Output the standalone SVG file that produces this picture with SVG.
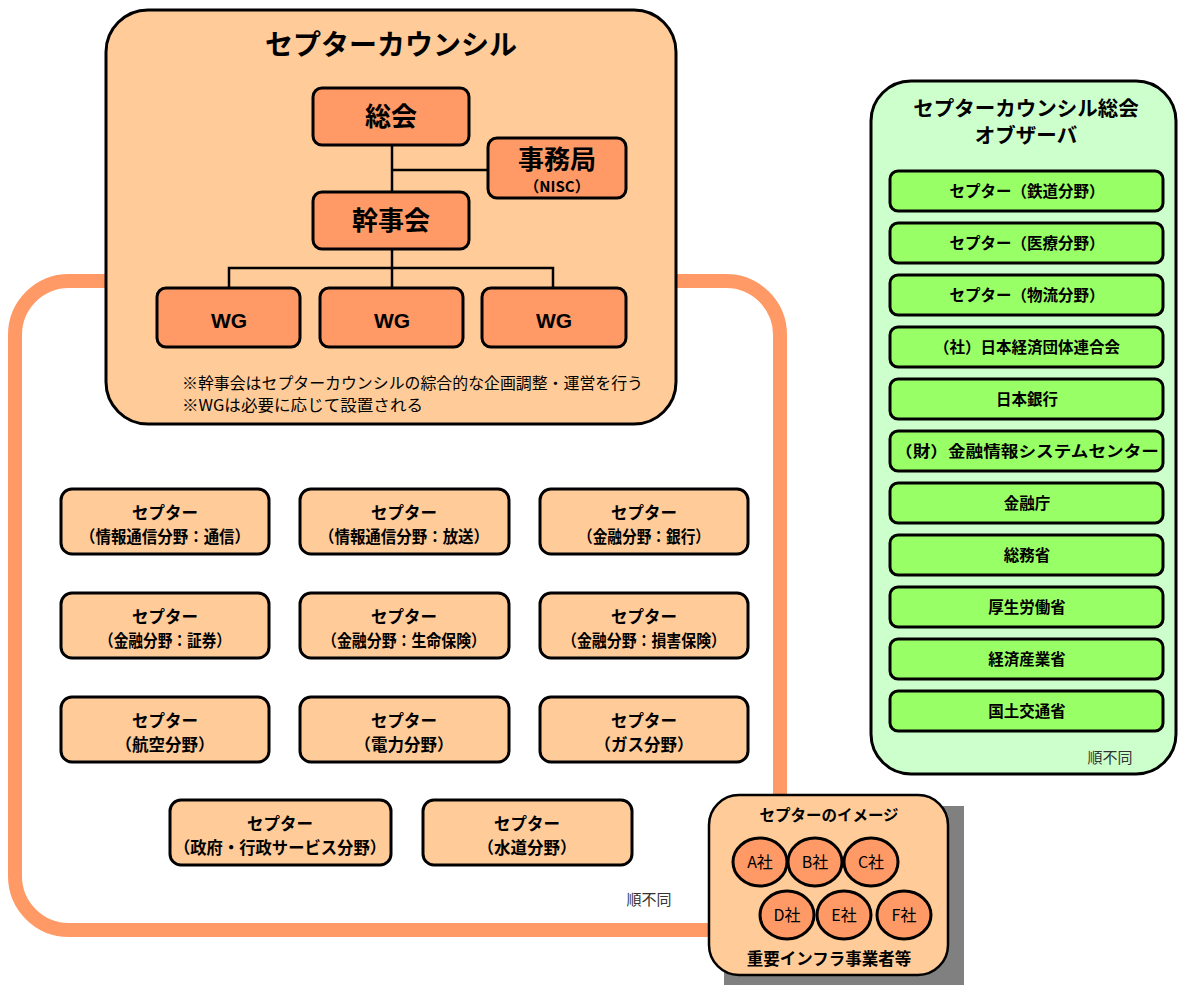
<svg xmlns="http://www.w3.org/2000/svg" width="1178" height="985" viewBox="0 0 1178 985">
<style>
text{font-family:"Noto Sans CJK JP","Liberation Sans",sans-serif;fill:#000;text-anchor:middle}
.st{text-anchor:start}
.b{font-weight:bold}
.box{fill:#FF9966;stroke:#000;stroke-width:3}
.cbox{fill:#FFCC99;stroke:#000;stroke-width:3}
.gbox{fill:#99FF66;stroke:#000;stroke-width:3}
.ln{stroke:#000;stroke-width:2.5;fill:none}
.c1{font-size:16.5px;font-weight:bold}
.g{font-size:15.5px;font-weight:bold}
.nf{font-size:15px;fill:#333}
.wg{font-family:"Liberation Sans",Arial,sans-serif;font-size:21px;font-weight:bold}
</style>
<rect width="1178" height="985" fill="#fff"/>
<g id="frame">
<rect x="15" y="281" width="765" height="649" rx="54" fill="none" stroke="#FF9966" stroke-width="14"/>
<text class="nf" x="649" y="905">順不同</text>
</g>
<g id="council">
<rect x="106" y="10" width="570" height="414" rx="42" fill="#FFCC99" stroke="#000" stroke-width="3"/>
<text class="b" x="391" y="55" font-size="28">セプターカウンシル</text>
<text class="st" x="182" y="389" font-size="15.5" textLength="461" lengthAdjust="spacingAndGlyphs">※幹事会はセプターカウンシルの綜合的な企画調整・運営を行う</text>
<text class="st" x="182" y="411" font-size="15.5" textLength="241" lengthAdjust="spacingAndGlyphs">※WGは必要に応じて設置される</text>
</g>
<g id="connectors">
<path class="ln" d="M392 145V192M392 170H488M392 249V288M229 288V268H553V288"/>
</g>
<g id="soukai"><rect class="box" x="313" y="88" width="156" height="57" rx="9"/><text class="b" x="391" y="126" font-size="26">総会</text></g>
<g id="jimukyoku"><rect class="box" x="488" y="138" width="138" height="60" rx="9"/><text class="b" x="557" y="169" font-size="26">事務局</text><text class="b" x="557" y="192" font-size="15">（NISC）</text></g>
<g id="kanjikai"><rect class="box" x="313" y="192" width="156" height="57" rx="9"/><text class="b" x="391" y="230" font-size="26">幹事会</text></g>
<g id="wg1"><rect class="box" x="157" y="288" width="143" height="59" rx="9"/><text class="wg" x="229" y="328">WG</text></g>
<g id="wg2"><rect class="box" x="320" y="288" width="143" height="59" rx="9"/><text class="wg" x="392" y="328">WG</text></g>
<g id="wg3"><rect class="box" x="482" y="288" width="144" height="59" rx="9"/><text class="wg" x="554" y="328">WG</text></g>

<g id="c-tsushin"><rect class="cbox" x="61" y="489" width="208" height="65" rx="11"/><text class="c1" x="165" y="519">セプター</text><text class="c1" x="165" y="543" textLength="170" lengthAdjust="spacingAndGlyphs">（情報通信分野：通信）</text></g>
<g id="c-hoso"><rect class="cbox" x="300" y="489" width="209" height="65" rx="11"/><text class="c1" x="404" y="519">セプター</text><text class="c1" x="404" y="543" textLength="170" lengthAdjust="spacingAndGlyphs">（情報通信分野：放送）</text></g>
<g id="c-ginko"><rect class="cbox" x="540" y="489" width="208" height="65" rx="11"/><text class="c1" x="644" y="519">セプター</text><text class="c1" x="644" y="543" textLength="132" lengthAdjust="spacingAndGlyphs">（金融分野：銀行）</text></g>
<g id="c-shoken"><rect class="cbox" x="61" y="593" width="208" height="65" rx="11"/><text class="c1" x="165" y="623">セプター</text><text class="c1" x="165" y="647" textLength="132" lengthAdjust="spacingAndGlyphs">（金融分野：証券）</text></g>
<g id="c-seimei"><rect class="cbox" x="300" y="593" width="209" height="65" rx="11"/><text class="c1" x="404" y="623">セプター</text><text class="c1" x="404" y="647" textLength="164" lengthAdjust="spacingAndGlyphs">（金融分野：生命保険）</text></g>
<g id="c-songai"><rect class="cbox" x="540" y="593" width="208" height="65" rx="11"/><text class="c1" x="644" y="623">セプター</text><text class="c1" x="644" y="647" textLength="164" lengthAdjust="spacingAndGlyphs">（金融分野：損害保険）</text></g>
<g id="c-koku"><rect class="cbox" x="61" y="697" width="208" height="65" rx="11"/><text class="c1" x="165" y="727">セプター</text><text class="c1" x="165" y="751">（航空分野）</text></g>
<g id="c-denryoku"><rect class="cbox" x="300" y="697" width="209" height="65" rx="11"/><text class="c1" x="404" y="727">セプター</text><text class="c1" x="404" y="751">（電力分野）</text></g>
<g id="c-gas"><rect class="cbox" x="540" y="697" width="208" height="65" rx="11"/><text class="c1" x="644" y="727">セプター</text><text class="c1" x="644" y="751">（ガス分野）</text></g>
<g id="c-seifu"><rect class="cbox" x="170" y="800" width="221" height="65" rx="11"/><text class="c1" x="280" y="830">セプター</text><text class="c1" x="280" y="854" textLength="212" lengthAdjust="spacingAndGlyphs">（政府・行政サービス分野）</text></g>
<g id="c-suido"><rect class="cbox" x="423" y="800" width="209" height="65" rx="11"/><text class="c1" x="527" y="830">セプター</text><text class="c1" x="527" y="854">（水道分野）</text></g>

<g id="observer">
<rect x="871" y="81" width="305" height="693" rx="40" fill="#CCFFCC" stroke="#000" stroke-width="3"/>
<text class="b" x="1026" y="116" font-size="20.5">セプターカウンシル総会</text>
<text class="b" x="1026" y="143" font-size="20.5">オブザーバ</text>
<text class="nf" x="1110" y="763">順不同</text>
</g>
<g id="o1"><rect class="gbox" x="890" y="171" width="273" height="40" rx="8"/><text class="g" x="1027" y="197">セプター（鉄道分野）</text></g>
<g id="o2"><rect class="gbox" x="890" y="223" width="273" height="40" rx="8"/><text class="g" x="1027" y="249">セプター（医療分野）</text></g>
<g id="o3"><rect class="gbox" x="890" y="275" width="273" height="40" rx="8"/><text class="g" x="1027" y="301">セプター（物流分野）</text></g>
<g id="o4"><rect class="gbox" x="890" y="327" width="273" height="40" rx="8"/><text class="g" x="1027" y="353">（社）日本経済団体連合会</text></g>
<g id="o5"><rect class="gbox" x="890" y="379" width="273" height="40" rx="8"/><text class="g" x="1027" y="405">日本銀行</text></g>
<g id="o6"><rect class="gbox" x="890" y="431" width="273" height="40" rx="8"/><text class="g" x="1027" y="457" textLength="264" lengthAdjust="spacingAndGlyphs">（財）金融情報システムセンター</text></g>
<g id="o7"><rect class="gbox" x="890" y="483" width="273" height="40" rx="8"/><text class="g" x="1027" y="509">金融庁</text></g>
<g id="o8"><rect class="gbox" x="890" y="535" width="273" height="40" rx="8"/><text class="g" x="1027" y="561">総務省</text></g>
<g id="o9"><rect class="gbox" x="890" y="587" width="273" height="40" rx="8"/><text class="g" x="1027" y="613">厚生労働省</text></g>
<g id="o10"><rect class="gbox" x="890" y="639" width="273" height="40" rx="8"/><text class="g" x="1027" y="665">経済産業省</text></g>
<g id="o11"><rect class="gbox" x="890" y="691" width="273" height="40" rx="8"/><text class="g" x="1027" y="717">国土交通省</text></g>

<g id="image">
<rect x="724" y="806" width="240" height="180" fill="#808080"/>
<rect x="709" y="795" width="239" height="180" rx="30" fill="#FFCC99" stroke="#000" stroke-width="2.5"/>
<text class="b" x="829" y="821" font-size="15.5">セプターのイメージ</text>
<text class="b" x="829" y="965" font-size="16.5">重要インフラ事業者等</text>
<g font-size="16">
<ellipse class="box" cx="760" cy="862" rx="27" ry="24"/><text x="760" y="868">A社</text>
<ellipse class="box" cx="815" cy="862" rx="27" ry="24"/><text x="815" y="868">B社</text>
<ellipse class="box" cx="871" cy="862" rx="27" ry="24"/><text x="871" y="868">C社</text>
<ellipse class="box" cx="787" cy="915" rx="27" ry="24"/><text x="787" y="921">D社</text>
<ellipse class="box" cx="844" cy="915" rx="27" ry="24"/><text x="844" y="921">E社</text>
<ellipse class="box" cx="904" cy="915" rx="27" ry="24"/><text x="904" y="921">F社</text>
</g>
</g>
</svg>
